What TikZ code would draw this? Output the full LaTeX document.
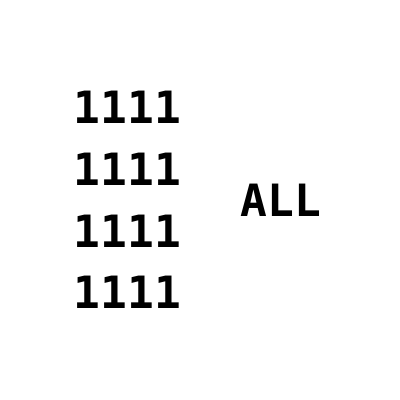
\documentclass[tikz,border=0pt]{standalone}
\usepackage{fontspec}
\newfontfamily\monob{DejaVu Sans Mono}[BoldFont=* Bold]
\begin{document}
\begin{tikzpicture}[x=1pt,y=1pt,
  lbl/.style={inner sep=0pt, font=\monob\bfseries\fontsize{44.5}{44.5}\selectfont}]
\useasboundingbox[fill=white] (0,0) rectangle (400,400);
\node[lbl] (r1) at (127.5,293) {1111};
\node[lbl] (r2) at (127.5,231) {1111};
\node[lbl] (r3) at (127.5,169) {1111};
\node[lbl] (r4) at (127.5,108) {1111};
\node[lbl] (all) at (281,200) {ALL};
\end{tikzpicture}
\end{document}
